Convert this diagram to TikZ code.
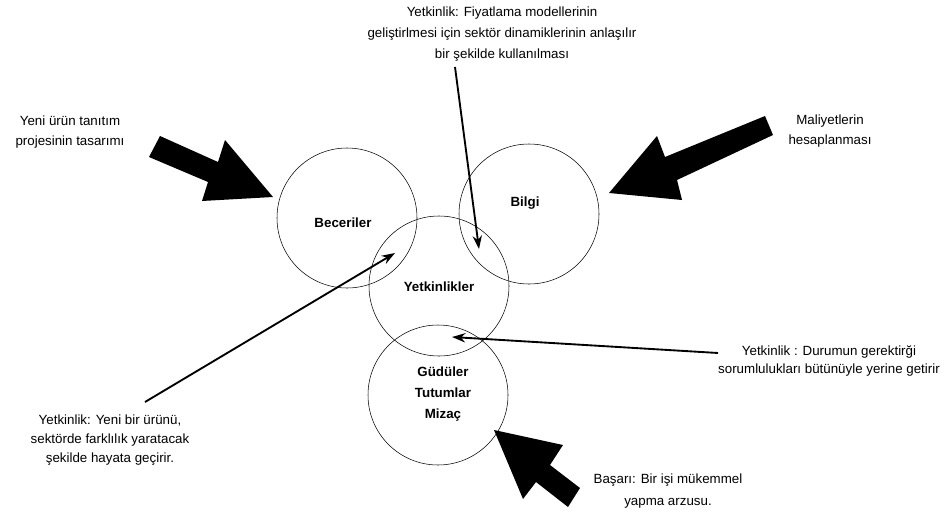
\documentclass[tikz,border=0pt]{standalone}
\usepackage{fontspec}
\setmainfont{Liberation Sans}
\usetikzlibrary{arrows.meta}
\tikzstyle{ring} = [circle, draw=black, minimum size=105pt, inner sep=0pt]
\tikzstyle{core} = [font=\fontsize{10}{16}\selectfont\bfseries, align=center]
\tikzstyle{note} = [font=\fontsize{10}{14}\selectfont, align=center]
\tikzstyle{arrow} = [line width=1.4pt,->,>={Stealth[length=10pt,width=7pt]}]
\tikzstyle{push} = [fill=black]
\begin{document}
\begin{tikzpicture}[x=0.75pt,y=-0.75pt]
\useasboundingbox (0,0) rectangle (949,521);

% circles
\node (beceriler) [ring] at (347,218) {};
\node (bilgi) [ring] at (529,214) {};
\node (yetkinlikler) [ring] at (439,286) {};
\node (gudu) [ring] at (438,395) {};

\node (lbeceriler) [core] at (343,223) {Beceriler};
\node (lbilgi) [core] at (525,203) {Bilgi};
\node (lyetkin) [core] at (439,287) {Yetkinlikler};
\node (lgudu) [core] at (443,394) {Güdüler\\Tutumlar\\Mizaç};

% texts
\node (ntop) [note, font=\fontsize{10}{15.5}\selectfont] at (502,34)
{Yetkinlik: Fiyatlama modellerinin\\geliştirlmesi için sektör dinamiklerinin anlaşılır\\bir şekilde kullanılması};
\node (nurun) [note, font=\fontsize{10}{15.5}\selectfont] at (70,132) {Yeni ürün tanıtım\\projesinin tasarımı};
\node (nmaliyet) [note, font=\fontsize{10}{15.5}\selectfont] at (830,131) {Maliyetlerin\\hesaplanması};
\node (nyeni) [note] at (110,440) {Yetkinlik: Yeni bir ürünü,\\sektörde farklılık yaratacak\\şekilde hayata geçirir.};
\node (ndurum) [note] at (829,361) {Yetkinlik : Durumun gerektirği\\sorumlulukları bütünüyle yerine getirir};
\node (nbasari) [note, font=\fontsize{10}{16}\selectfont] at (668,491) {Başarı: Bir işi mükemmel\\yapma arzusu.};

% thin arrows
\coordinate (ttop) at (455,67);
\coordinate (htop) at (479,249);
\coordinate (tyeni) at (145,402);
\coordinate (hyeni) at (395,253);
\coordinate (tdurum) at (718,353);
\coordinate (hdurum) at (452,337);
\draw [arrow] (ttop) -- (htop);
\draw [arrow] (tyeni) -- (hyeni);
\draw [arrow] (tdurum) -- (hdurum);

% block arrows
\fill [push] (160,136) -- (218,162) -- (225,140) -- (273,197) -- (202,201) -- (208,182) -- (149,157) -- cycle;
\fill [push] (765,116) -- (665,157) -- (657,136) -- (609,193) -- (682,200) -- (677,180) -- (773,135) -- cycle;
\fill [push] (494,430) -- (563,445) -- (550,465) -- (580,488) -- (568,507) -- (536,482) -- (523,499) -- cycle;

\end{tikzpicture}
\end{document}
